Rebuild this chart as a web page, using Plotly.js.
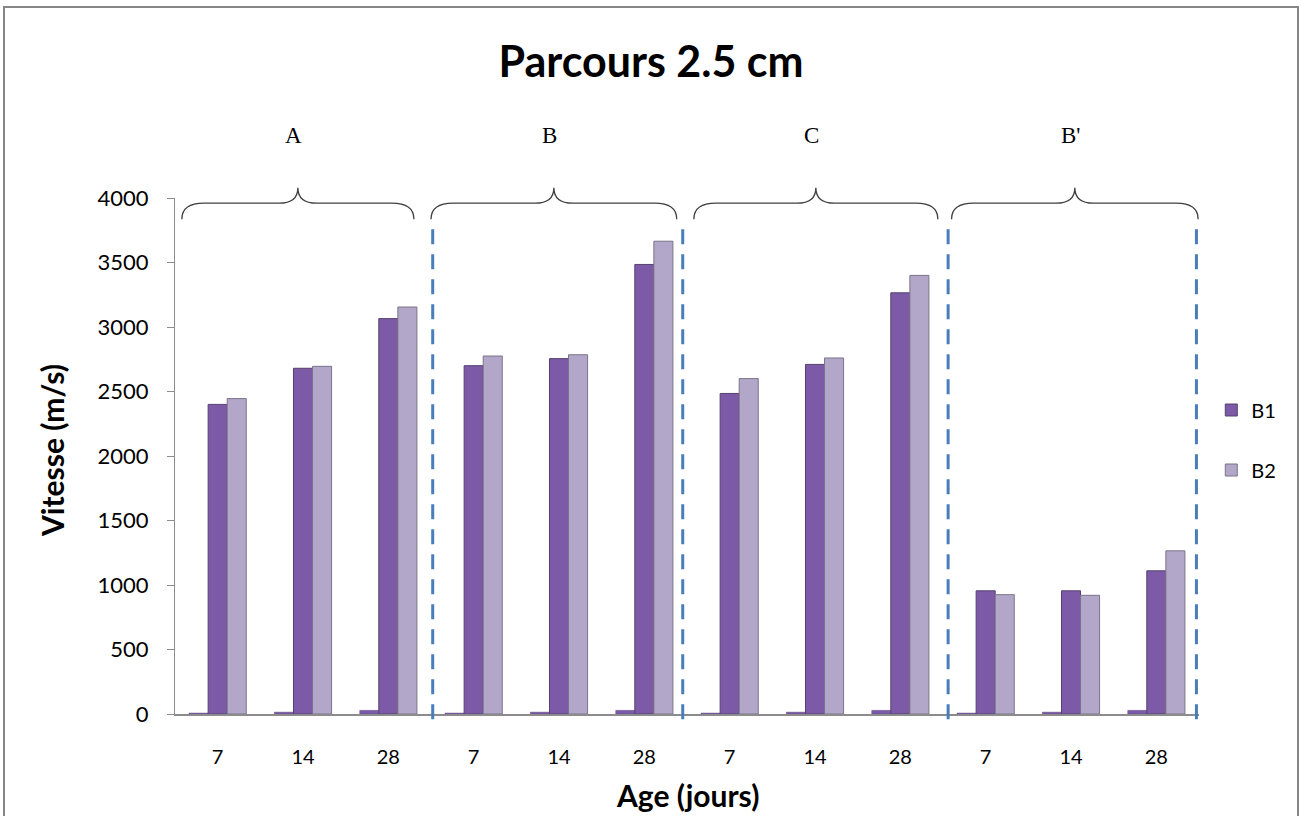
<!DOCTYPE html>
<html>
<head>
<meta charset="utf-8">
<script src="https://cdn.plot.ly/plotly-3.0.1.min.js"></script>
<style>
  html, body { margin: 0; padding: 0; background: #ffffff; }
  #chart { width: 1302px; height: 816px; }
</style>
</head>
<body>
<div id="chart"></div>
<script>
// ---- data ----
const groups = ["A", "B", "C", "B'"];
const ages = ["7", "14", "28"];
const ageValues = [7, 14, 28, 7, 14, 28, 7, 14, 28, 7, 14, 28];
const b1 = [2400, 2680, 3065, 2700, 2755, 3485, 2485, 2710, 3265, 955, 955, 1110];
const b2 = [2445, 2695, 3155, 2775, 2785, 3665, 2600, 2760, 3400, 925, 920, 1265];

// category positions (one per bar group)
const xs = ageValues.map((_, i) => i);
const tickText = [];
groups.forEach(() => ages.forEach(a => tickText.push(a)));

const purple = "#7d5aa8";
const lilac = "#b2a7c9";

const traces = [
  {
    type: "bar", x: xs, y: ageValues, name: "Age",
    marker: { color: purple, line: { color: "#5a4080", width: 0.5 } },
    showlegend: false, hoverinfo: "skip"
  },
  {
    type: "bar", x: xs, y: b1, name: "B1",
    marker: { color: purple, line: { color: "#54416e", width: 1 } },
    legend: "legend"
  },
  {
    type: "bar", x: xs, y: b2, name: "B2",
    marker: { color: lilac, line: { color: "#7a7388", width: 1 } },
    legend: "legend2"
  }
];

// ---- decorations (braces, group labels, separators) ----
const braceStartOff = [0.08, 0.0, 0.08, 0.1];
const braceEndOff = [0.2, 0.12, 0.06, 0.01];
const sepOff = [0.02, -0.05, 0.06, -0.03];
const shapes = [];
const annotations = [];
const yFlat = 0.99, yEnd = 0.959, yPeak = 1.02;
groups.forEach((g, k) => {
  const start = k * 3 - 0.5, end = k * 3 + 2.5;
  const x0 = start + braceStartOff[k];
  const x1 = end - braceEndOff[k];
  const p = (x0 + x1) / 2;
  const d = 0.26, d2 = 0.22;
  const path = `M ${x0},${yEnd} Q ${x0},${yFlat} ${x0 + d},${yFlat} L ${p - d2},${yFlat} ` +
               `Q ${p},${yFlat} ${p},${yPeak} Q ${p},${yFlat} ${p + d2},${yFlat} ` +
               `L ${x1 - d},${yFlat} Q ${x1},${yFlat} ${x1},${yEnd}`;
  shapes.push({ type: "path", xref: "x", yref: "paper", path: path,
    line: { color: "#404040", width: 1.3 } });
  annotations.push({ xref: "x", yref: "paper", x: p - 0.05, y: 1.122, yanchor: "middle", text: g,
    showarrow: false, font: { family: "Liberation Serif, Times New Roman, serif", size: 23, color: "#000" } });
  shapes.push({ type: "line", xref: "x", yref: "paper", x0: end + sepOff[k], x1: end + sepOff[k], y0: -0.01, y1: 0.94,
    line: { color: "#4a7ebb", width: 3, dash: "15px,10px" } });
});

// outer frame
shapes.push({ type: "rect", xref: "paper", yref: "paper",
  x0: (4 - 175) / 1024, x1: (1298 - 175) / 1024, y0: (714 - 830) / 516, y1: (714 - 7) / 516,
  line: { color: "#868686", width: 2 }, fillcolor: "rgba(0,0,0,0)", layer: "below" });

const font = "Lato, Open Sans, sans-serif";

// y-axis title placed like the original
annotations.push({ xref: "paper", yref: "paper", x: (52 - 175) / 1024, y: (714 - 451) / 516,
  xanchor: "center", yanchor: "middle", showarrow: false, textangle: -90, text: "<b>Vitesse (m/s)</b>",
  font: { family: font, size: 30, color: "#000" } });
annotations.push({ xref: "paper", yref: "paper", x: 0.5, y: (714 - 795) / 516,
  xanchor: "center", yanchor: "middle", showarrow: false, text: "<b>Age (jours)</b>",
  font: { family: font, size: 30, color: "#000" } });

const layout = {
  width: 1302, height: 816,
  margin: { l: 175, r: 103, t: 198, b: 102 },
  paper_bgcolor: "#ffffff", plot_bgcolor: "#ffffff",
  font: { family: font, color: "#000" },
  title: { text: "<b>Parcours 2.5 cm</b>", x: 0.5, xanchor: "center", y: 1 - 62 / 816, yanchor: "middle",
    font: { family: font, size: 43, color: "#000" } },
  barmode: "group", bargap: 0.33, bargroupgap: 0,
  xaxis: {
    range: [-0.5, 11.5], tickmode: "array", tickvals: xs, ticktext: tickText,
    showgrid: false, zeroline: false, showline: true, linecolor: "#8c8c8c", linewidth: 1.5,
    ticks: "", ticklabelstandoff: 24, tickfont: { size: 20, family: font }
  },
  yaxis: {
    range: [0, 4000], tickvals: [0, 500, 1000, 1500, 2000, 2500, 3000, 3500, 4000],
    showgrid: false, zeroline: false, showline: true, linecolor: "#8c8c8c", linewidth: 1,
    ticks: "outside", ticklen: 7, tickcolor: "#8c8c8c", ticklabelstandoff: 14, tickfont: { size: 22, family: font }
  },
  legend: { x: 1.012, y: (714 - 410) / 516, xanchor: "left", yanchor: "middle", font: { size: 20, family: font },
    bgcolor: "rgba(0,0,0,0)" },
  legend2: { x: 1.012, y: (714 - 470) / 516, xanchor: "left", yanchor: "middle", font: { size: 20, family: font },
    bgcolor: "rgba(0,0,0,0)" },
  shapes: shapes, annotations: annotations
};

Plotly.newPlot("chart", traces, layout, { displayModeBar: false, staticPlot: true });
</script>
</body>
</html>
